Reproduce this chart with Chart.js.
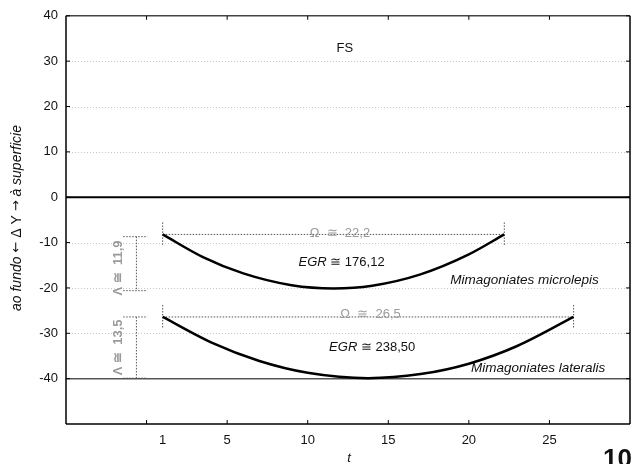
<!DOCTYPE html>
<html>
<head>
<meta charset="utf-8">
<script src="https://cdn.jsdelivr.net/npm/chart.js@4"></script>
<style>
  body { margin: 0; background: #fff; }
  #box { width: 633px; height: 464px; position: relative; }
</style>
</head>
<body>
<div id="box"><canvas id="grafico"></canvas></div>
<script>
// curvas de deslocamento vertical (t, ΔY)
const tMicrolepis = [1, 3.5, 6, 9, 11.6, 14, 17, 20, 22.2];
const dyMicrolepis = [-8.2, -13.2, -16.8, -19.4, -20.1, -19.5, -17.0, -12.6, -8.2];
const tLateralis = [1, 4, 7, 10, 13.75, 17, 20, 23, 26.5];
const dyLateralis = [-26.4, -32.0, -36.1, -38.7, -39.9, -39.0, -36.7, -32.8, -26.4];

const especies = ["Mimagoniates microlepis", "Mimagoniates lateralis"];
const omega = ["22,2", "26,5"];
const egr = ["176,12", "238,50"];
const lambda = ["11,9", "13,5"];

const xTicks = [0, 1, 5, 10, 15, 20, 25];
const xMarcas = [0, 5, 10, 15, 20, 25];
const yTicks = [40, 30, 20, 10, 0, -10, -20, -30, -40];

const FONTE = "Arial, 'Liberation Sans', sans-serif";
const CINZA = "#9a9a9a";

const pts = (ts, ys) => ts.map((t, i) => ({ x: t, y: ys[i] }));

function fonteDe(p, size) {
  return (p.it ? "italic " : "") + (p.b ? "bold " : "") + (p.size || size) + "px " + (p.fam || FONTE);
}

// texto com trechos em itálico, centrado em (x, y)
function textoMisto(ctx, partes, x, y, size, cor, rot) {
  ctx.save();
  ctx.translate(x, y);
  if (rot) ctx.rotate(rot);
  ctx.fillStyle = cor;
  ctx.textBaseline = "middle";
  ctx.textAlign = "left";
  let total = 0;
  const larg = partes.map(p => {
    ctx.font = fonteDe(p, size);
    const w = ctx.measureText(p.t).width;
    total += w;
    return w;
  });
  let cx = -total / 2;
  partes.forEach((p, i) => {
    ctx.font = fonteDe(p, size);
    ctx.fillText(p.t, cx, 0);
    cx += larg[i];
  });
  ctx.restore();
}

function linha(ctx, x1, y1, x2, y2, cor, w, dash) {
  ctx.save();
  ctx.strokeStyle = cor;
  ctx.lineWidth = w;
  ctx.setLineDash(dash || []);
  ctx.beginPath();
  ctx.moveTo(x1, y1);
  ctx.lineTo(x2, y2);
  ctx.stroke();
  ctx.restore();
}

const fundo = {
  id: "fundo",
  beforeDatasetsDraw(chart) {
    const { ctx, chartArea: a, scales: { x, y } } = chart;
    // grade pontilhada
    yTicks.forEach(v => {
      if (v === 0 || v === -40 || v === 40) return;
      const py = Math.round(y.getPixelForValue(v)) + 0.5;
      linha(ctx, a.left, py, a.right, py, "#c8c8c8", 1, [1, 2]);
    });
    // linha da superfície e do fundo
    const p0 = y.getPixelForValue(0);
    linha(ctx, a.left, p0, a.right, p0, "#000", 2);
    const p40 = y.getPixelForValue(-40);
    linha(ctx, a.left, p40, a.right, p40, "#555", 1.5);

    // anotações pontilhadas de cada curva
    const dot = [1.5, 1.5];
    const cor = "#555";
    [[tMicrolepis, dyMicrolepis], [tLateralis, dyLateralis]].forEach(([ts, ys]) => {
      const xa = x.getPixelForValue(ts[0]);
      const xb = x.getPixelForValue(ts[ts.length - 1]);
      const ya = y.getPixelForValue(ys[0]);
      const yb = y.getPixelForValue(ys[ys.length - 1]);
      linha(ctx, xa, ya, xb, yb, cor, 1, dot);
      linha(ctx, xa, ya - 12, xa, ya + 11, cor, 1, dot);
      linha(ctx, xb, yb - 12, xb, yb + 11, cor, 1, dot);
    });
    // colchetes de profundidade (Λ)
    const topo1 = y.getPixelForValue(-8.7), base1 = y.getPixelForValue(-20.6);
    const topo2 = y.getPixelForValue(-26.4), base2 = y.getPixelForValue(-39.9);
    const xl = x.getPixelForValue(-1.45), xr = x.getPixelForValue(0.05), xm = x.getPixelForValue(-0.63);
    [[topo1, base1], [topo2, base2]].forEach(([t, b]) => {
      linha(ctx, xl, t, xr, t, cor, 1, dot);
      linha(ctx, xl, b, xr, b, cor, 1, dot);
      linha(ctx, xm, t, xm, b, cor, 1, dot);
    });
  },
  afterDraw(chart) {
    const { ctx, chartArea: a, scales: { x, y } } = chart;
    // moldura
    linha(ctx, a.left, a.top, a.right, a.top, "#444", 1.5);
    linha(ctx, a.left, a.top, a.left, a.bottom, "#000", 1.5);
    linha(ctx, a.left, a.bottom, a.right, a.bottom, "#000", 1.5);
    linha(ctx, a.right, a.top, a.right, a.bottom, "#000", 1.5);
    // marcas internas
    xMarcas.forEach(v => {
      const px = x.getPixelForValue(v);
      linha(ctx, px, a.bottom, px, a.bottom - 4, "#000", 1);
      linha(ctx, px, a.top, px, a.top + 4, "#000", 1);
    });
    yTicks.forEach(v => {
      const py = y.getPixelForValue(v);
      linha(ctx, a.right, py, a.right - 4, py, "#000", 1);
      linha(ctx, a.left, py, a.left + 4, py, "#000", 1);
    });

    // textos
    textoMisto(ctx, [{ t: "FS" }], x.getPixelForValue(12.3), y.getPixelForValue(32.7), 13, "#111");
    textoMisto(ctx, [{ t: "Ω  ≅  " + omega[0] }], x.getPixelForValue(12.0), y.getPixelForValue(-7.9), 13, CINZA);
    textoMisto(ctx, [{ t: "Ω  ≅  " + omega[1] }], x.getPixelForValue(13.9), y.getPixelForValue(-25.9), 13, CINZA);
    textoMisto(ctx, [{ t: "EGR", it: true }, { t: " ≅ " + egr[0] }], x.getPixelForValue(12.1), y.getPixelForValue(-14.3), 13, "#111");
    textoMisto(ctx, [{ t: "EGR", it: true }, { t: " ≅ " + egr[1] }], x.getPixelForValue(14.0), y.getPixelForValue(-33.1), 13, "#111");
    textoMisto(ctx, [{ t: especies[0], it: true }], x.getPixelForValue(23.45), y.getPixelForValue(-18.3), 13.5, "#111");
    textoMisto(ctx, [{ t: especies[1], it: true }], x.getPixelForValue(24.3), y.getPixelForValue(-37.8), 13.5, "#111");

    const xt = x.getPixelForValue(-1.72);
    textoMisto(ctx, [{ t: "Λ ≅  " + lambda[0], b: true }], xt, y.getPixelForValue(-15.6), 13, CINZA, -Math.PI / 2);
    textoMisto(ctx, [{ t: "Λ ≅  " + lambda[1], b: true }], xt, y.getPixelForValue(-33.1), 13, CINZA, -Math.PI / 2);

    // títulos dos eixos
    const setas = "'DejaVu Sans', sans-serif";
    textoMisto(ctx, [
      { t: "ao fundo ", it: true },
      { t: "←", fam: setas, size: 13 },
      { t: " Δ Y " },
      { t: "→", fam: setas, size: 13 },
      { t: " à superficie", it: true }
    ], 17, 218, 14, "#111", -Math.PI / 2);
    textoMisto(ctx, [{ t: "t", it: true }], (a.left + a.right) / 2 + 1, 458, 13, "#111");

    // número da figura
    ctx.save();
    ctx.font = "bold 26px " + FONTE;
    ctx.fillStyle = "#111";
    ctx.textBaseline = "alphabetic";
    ctx.fillText("10", 603, 467);
    ctx.restore();
  }
};

new Chart(document.getElementById("grafico"), {
  type: "line",
  data: {
    datasets: [
      { data: pts(tMicrolepis, dyMicrolepis), borderColor: "#000", borderWidth: 2.5, pointRadius: 0, cubicInterpolationMode: "monotone" },
      { data: pts(tLateralis, dyLateralis), borderColor: "#000", borderWidth: 2.5, pointRadius: 0, cubicInterpolationMode: "monotone" }
    ]
  },
  options: {
    responsive: true,
    maintainAspectRatio: false,
    animation: false,
    layout: { padding: { top: 11, right: 3, left: 0, bottom: 0 } },
    plugins: { legend: { display: false }, tooltip: { enabled: false } },
    scales: {
      x: {
        type: "linear",
        min: -5,
        max: 30,
        afterBuildTicks: s => { s.ticks = xTicks.map(v => ({ value: v })); },
        afterFit: s => { s.height = 40; },
        grid: { display: false, drawTicks: false },
        border: { display: false },
        ticks: {
          padding: 9,
          color: "#111",
          font: { family: FONTE, size: 13 },
          callback: v => (v === 0 ? "" : v)
        }
      },
      y: {
        min: -50,
        max: 40,
        afterBuildTicks: s => { s.ticks = yTicks.map(v => ({ value: v })); },
        afterFit: s => { s.width = 66; },
        grid: { display: false, drawTicks: false },
        border: { display: false },
        ticks: {
          padding: 8,
          color: "#111",
          font: { family: FONTE, size: 13 }
        }
      }
    }
  },
  plugins: [fundo]
});
</script>
</body>
</html>
